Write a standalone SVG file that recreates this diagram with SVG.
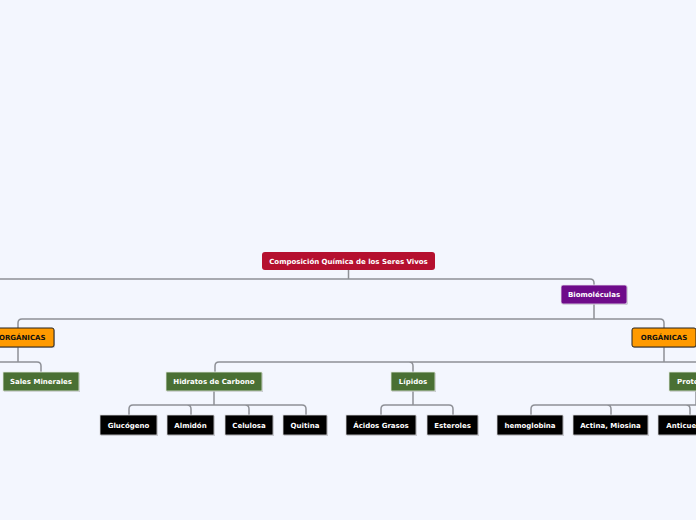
<svg xmlns="http://www.w3.org/2000/svg" width="696" height="520" viewBox="0 0 696 520">
<style>
.bg{fill:#f3f6fe}
.c{fill:none;stroke:#8e9096;stroke-width:1.5}
.t{font-family:"DejaVu Sans",Verdana,sans-serif;font-weight:bold;font-size:7px;text-anchor:middle;fill:#fff}
.tk{fill:#111}
.sh{fill:#9a9ca4;opacity:.55}
.root{fill:#b5102f}
.bio{fill:#6e0b8a;stroke:#e8e4f0;stroke-width:.8}
.org{fill:#ff9a00;stroke:#222;stroke-width:1}
.grn{fill:#4a7034;stroke:#e4eae0;stroke-width:.8}
.blk{fill:#000;stroke:#d8d8dc;stroke-width:.8}
</style>
<rect class="bg" x="0" y="0" width="696" height="520"/>
<g id="connectors">
<path class="c" d="M348.5 270V279M-2 279H590Q594 279 594 283V285"/>
<path class="c" d="M594 304V319M18 328V323Q18 319 22 319H660Q664 319 664 323V328"/>
<path class="c" d="M18 347V362M-2 362H37Q41 362 41 366V372"/>
<path class="c" d="M664 347V362M219 362Q215 362 215 366V372M219 362H700M409 362Q413 362 413 366V372"/>
<path class="c" d="M214 391V405M133 405Q129 405 129 409V415M133 405H302Q306 405 306 409V415M187 405Q191 405 191 409V415M245 405Q249 405 249 409V415"/>
<path class="c" d="M413 391V405M385 405Q381 405 381 409V415M385 405H449Q453 405 453 409V415"/>
<path class="c" d="M696 391V405M535 405Q531 405 531 409V415M535 405H700M607 405Q611 405 611 409V415M686 405Q690 405 690 409V415"/>
</g>
<g id="n-root"><rect class="root" x="262" y="252" width="173" height="18" rx="3"/><text class="t" x="348.5" y="263.6">Composición Química de los Seres Vivos</text></g>
<g id="n-bio"><rect class="sh" x="562" y="286" width="66" height="19" rx="2"/><rect class="bio" x="561" y="285" width="66" height="19" rx="2"/><text class="t" x="594" y="297">Biomoléculas</text></g>
<g id="n-inorg"><rect class="sh" x="-17" y="329" width="72" height="19" rx="2"/><rect class="org" x="-18" y="328" width="72" height="19" rx="2"/><text class="t tk" x="18" y="340">INORGÁNICAS</text></g>
<g id="n-org"><rect class="sh" x="633" y="329" width="64" height="19" rx="2"/><rect class="org" x="632" y="328" width="64" height="19" rx="2"/><text class="t tk" x="664" y="340">ORGÁNICAS</text></g>
<g id="n-sales"><rect class="sh" x="4" y="373" width="76" height="19"/><rect class="grn" x="3" y="372" width="76" height="19"/><text class="t" x="41" y="384">Sales Minerales</text></g>
<g id="n-hidratos"><rect class="sh" x="167" y="373" width="96" height="19"/><rect class="grn" x="166" y="372" width="96" height="19"/><text class="t" x="214" y="384">Hidratos de Carbono</text></g>
<g id="n-lipidos"><rect class="sh" x="392" y="373" width="44" height="19"/><rect class="grn" x="391" y="372" width="44" height="19"/><text class="t" x="413" y="384">Lípidos</text></g>
<g id="n-proteinas"><rect class="sh" x="670" y="373" width="54" height="19"/><rect class="grn" x="669" y="372" width="54" height="19"/><text class="t" x="696" y="384">Proteínas</text></g>
<g id="n-glucogeno"><rect class="sh" x="101" y="416" width="57" height="20"/><rect class="blk" x="100" y="415" width="57" height="20"/><text class="t" x="128.5" y="427.5">Glucógeno</text></g>
<g id="n-almidon"><rect class="sh" x="168" y="416" width="47" height="20"/><rect class="blk" x="167" y="415" width="47" height="20"/><text class="t" x="190.5" y="427.5">Almidón</text></g>
<g id="n-celulosa"><rect class="sh" x="226" y="416" width="48" height="20"/><rect class="blk" x="225" y="415" width="48" height="20"/><text class="t" x="249" y="427.5">Celulosa</text></g>
<g id="n-quitina"><rect class="sh" x="284" y="416" width="44" height="20"/><rect class="blk" x="283" y="415" width="44" height="20"/><text class="t" x="305" y="427.5">Quitina</text></g>
<g id="n-acidos"><rect class="sh" x="347" y="416" width="70" height="20"/><rect class="blk" x="346" y="415" width="70" height="20"/><text class="t" x="381" y="427.5">Ácidos Grasos</text></g>
<g id="n-esteroles"><rect class="sh" x="428" y="416" width="51" height="20"/><rect class="blk" x="427" y="415" width="51" height="20"/><text class="t" x="452.5" y="427.5">Esteroles</text></g>
<g id="n-hemoglobina"><rect class="sh" x="498" y="416" width="66" height="20"/><rect class="blk" x="497" y="415" width="66" height="20"/><text class="t" x="530" y="427.5">hemoglobina</text></g>
<g id="n-actina"><rect class="sh" x="574" y="416" width="75" height="20"/><rect class="blk" x="573" y="415" width="75" height="20"/><text class="t" x="610.5" y="427.5">Actina, Miosina</text></g>
<g id="n-anticuerpos"><rect class="sh" x="659" y="416" width="64" height="20"/><rect class="blk" x="658" y="415" width="64" height="20"/><text class="t" x="690" y="427.5">Anticuerpos</text></g>
</svg>
